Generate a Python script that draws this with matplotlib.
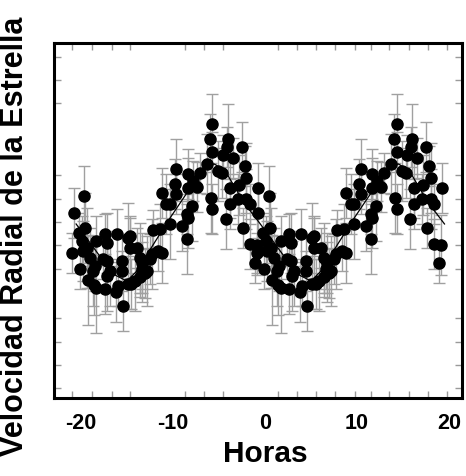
import matplotlib
matplotlib.use('Agg')
import matplotlib.pyplot as plt
import numpy as np

plt.rcParams['font.family'] = ['Liberation Sans', 'DejaVu Sans']
plt.rcParams['axes.unicode_minus'] = False

# one cycle of the phase-folded observations (hours, velocity in arbitrary units)
horas = [-20.7, -19.6, -20.2, -19.5, -19.9, -20.9, -19.8, -19.3, -18.3, -19.0,
         -20.1, -18.7, -18.5, -19.2, -18.6, -18.3, -17.4, -17.2, -16.1, -14.9,
         -17.6, -17.2, -15.5, -16.8, -15.5, -17.4, -16.2, -16.0, -15.4, -17.1,
         -14.7, -14.7, -14.9, -13.9, -13.6, -13.3, -12.5, -13.4, -13.3, -14.5,
         -14.1, -13.6, -13.0, -12.8, -12.2, -11.4, -11.2, -11.6, -12.3, -11.2,
         -10.7, -10.3, -10.3, -9.8, -9.6, -9.6, -9.0, -8.4, -8.5, -8.5,
         -8.4, -8.4, -7.8, -7.9, -7.4, -7.1, -6.3, -6.0, -5.7, -5.7,
         -5.9, -5.7, -5.1, -4.6, -4.7, -4.0, -4.1, -3.8, -3.8, -3.5,
         -2.8, -2.5, -2.2, -2.0, -2.9, -2.0, -1.6, -0.8, -4.2, -2.4,
         -1.6, -0.9, -1.1]
velocidad = [18.8, 20.5, 16.8, 17.3, 16.0, 14.8, 15.0, 15.3, 16.0, 14.3,
             13.2, 13.0, 13.5, 12.1, 11.6, 11.3, 16.7, 15.8, 16.7, 16.3,
             14.2, 14.0, 14.0, 13.0, 13.0, 11.2, 10.9, 11.5, 9.5, 12.5,
             16.5, 15.3, 11.7, 15.3, 14.3, 13.8, 14.2, 13.2, 12.9, 11.7,
             12.0, 12.4, 12.8, 13.0, 17.1, 17.2, 14.8, 15.0, 14.7, 20.8,
             19.7, 19.7, 17.7, 21.7, 23.2, 20.7, 17.5, 18.3, 16.2, 18.7,
             22.7, 21.3, 22.0, 19.5, 21.4, 22.8, 23.7, 26.2, 27.7, 24.9,
             20.3, 19.2, 23.0, 24.6, 22.8, 26.2, 25.4, 21.3, 19.7, 24.3,
             21.6, 25.4, 23.5, 22.3, 20.2, 20.2, 19.7, 21.3, 18.2, 17.3,
             15.7, 15.6, 13.8]
errores = [2.5, 3.0, 2.0, 3.5, 2.5, 2.0, 3.0, 4.0, 2.5, 3.0,
           2.0, 3.5, 2.5, 4.5, 3.0, 4.5, 2.0, 3.0, 2.5, 3.5,
           2.0, 3.0, 2.5, 3.5, 2.0, 2.5, 3.0, 2.0, 2.5, 3.5,
           2.0, 3.0, 2.5, 2.0, 3.5, 3.0, 2.5, 2.0, 3.0, 2.5,
           3.0, 2.0, 2.5, 3.5, 2.0, 2.5, 3.0, 2.0, 3.5, 2.5,
           3.0, 2.0, 3.5, 2.5, 3.0, 2.0, 2.5, 3.0, 3.5, 2.0,
           2.5, 3.0, 2.0, 3.5, 2.5, 2.0, 3.0, 2.5, 3.0, 2.0,
           3.5, 2.5, 3.0, 2.0, 2.5, 3.5, 2.0, 3.0, 2.5, 2.0,
           3.0, 2.5, 2.0, 3.5, 2.5, 3.0, 2.0, 2.5, 3.0, 2.0,
           2.5, 3.0, 2.0]
periodo = 20.0

# fitted model curve
modelo_horas = [-20.5, -16.5, -15, -14, -10.3, -6.5, -5.5, -4.3, -2.4, -0.5,
                3.5, 5, 6, 9.7, 13.5, 14.5, 15.7, 17.6, 19.5]
modelo_vel = [17.7, 12.7, 12.0, 12.9, 18.3, 23.5, 23.7, 23.0, 20.0, 17.7,
              12.7, 12.0, 12.9, 18.3, 23.5, 23.7, 23.0, 20.0, 17.7]

xticks = [-20, -10, 0, 10, 20]
xminor = [-20.9, -18.8, -16.6, -14.6, -8.7, -6.6, -4.6, 1.4, 3.5, 5.5, 7.6,
          9.8, 11.5, 13.5, 15.7, 17.7, 19.8]
yminor = [1.3, 3.6, 5.9, 8.3, 13.2, 15.6, 17.9, 20.2, 22.6, 29.8, 32.1, 34.4]

fig = plt.figure(figsize=(4.66, 4.76), dpi=100)
ax = fig.add_axes([0.1159, 0.1639, 0.8755, 0.7458])

h = np.array(horas)
v = np.array(velocidad)
e = np.array(errores)
for shift in (0, periodo):
    ax.errorbar(h + shift, v, yerr=e, fmt='none', ecolor='#a0a0a0',
                elinewidth=1.0, capsize=4, capthick=1.0, zorder=1)
ax.plot(modelo_horas, modelo_vel, color='black', lw=0.9, zorder=2)
for shift in (0, periodo):
    ax.plot(h + shift, v, 'o', color='black', markersize=8, zorder=3)

ax.set_xlim(-22.9, 21.4)
ax.set_ylim(0.3, 35.8)
ax.set_xticks(xticks)
ax.set_xticks(xminor, minor=True)
ax.set_yticks([])
ax.set_yticks(yminor, minor=True)
ax.tick_params(axis='x', which='major', length=0, pad=11, labelsize=15.5)
ax.tick_params(which='minor', direction='in', length=5, width=1,
               color='#9a9a9a', top=True, bottom=True, left=True, right=True)
for lab in ax.get_xticklabels():
    lab.set_fontweight('bold')
for s in ax.spines.values():
    s.set_linewidth(2.2)

fig.text(265 / 466, 1 - 454 / 476, 'Horas', ha='center', va='center',
         fontsize=21.5, fontweight='bold')
fig.text(0.0, 1 - 236 / 476, 'Velocidad Radial de la Estrella',
         rotation=90, ha='left', va='center', fontsize=22, fontweight='bold')

fig.savefig('out.png', dpi=100)
